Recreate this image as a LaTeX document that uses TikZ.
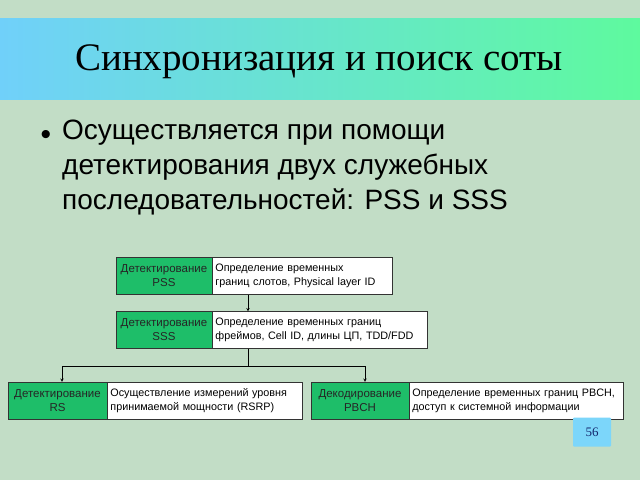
\documentclass[tikz,border=0pt]{standalone}
\usepackage{fontspec}
\setmainfont{Liberation Serif}
\setsansfont{Liberation Sans}
\usetikzlibrary{arrows,positioning,calc}
\definecolor{slidebg}{RGB}{194,221,198}
\definecolor{bandleft}{RGB}{112,208,250}
\definecolor{bandright}{RGB}{94,250,158}
\definecolor{boxgreen}{RGB}{30,190,105}
\definecolor{pagenum}{RGB}{124,214,250}
\definecolor{numblue}{RGB}{20,40,110}

\begin{document}
\begin{tikzpicture}[x=1pt,y=-1pt,>=stealth,
  greenbox/.style={draw=black!80,fill=boxgreen,minimum height=37pt,inner sep=0pt,
    align=center,font=\sffamily\fontsize{11.5}{14}\selectfont,text=black!85},
  whitebox/.style={draw=black!80,fill=white,minimum height=37pt,inner xsep=3pt,inner ysep=0pt,
    align=left,anchor=west,font=\sffamily\fontsize{10.8}{14}\selectfont},
  link/.style={->,black,line width=0.5pt}]
\useasboundingbox (0,0) rectangle (640,480);
\fill[slidebg] (0,0) rectangle (640,480);

% title band
\shade[left color=bandleft,right color=bandright] (0,18) rectangle (640,99);
\node[font=\fontsize{39}{44}\selectfont] (title) at (319,62) {Синхронизация и поиск соты};

% bullet text
\node[font=\sffamily\fontsize{30}{35}\selectfont] (dot) at (46,137) {•};
\node[anchor=north west,align=left,inner sep=0pt,font=\sffamily\fontsize{28}{35}\selectfont]
  (intro) at (62,120) {Осуществляется при помощи\\детектирования двух служебных\\последовательностей: PSS и SSS};

% blocks
\node[greenbox,minimum width=96pt] (pssG) at (164,276) {Детектирование\\PSS};
\node[whitebox,text width=174pt,right=0pt of pssG] (pssW) {Определение временных\\границ слотов, Physical layer ID};

\node[greenbox,minimum width=96pt] (sssG) at (164,330) {Детектирование\\SSS};
\node[whitebox,text width=209pt,right=0pt of sssG] (sssW) {Определение временных границ\\фреймов, Cell ID, длины ЦП, TDD/FDD};

\node[greenbox,minimum width=99pt] (rsG) at (57.5,400.5) {Детектирование\\RS};
\node[whitebox,text width=189pt,right=0pt of rsG] (rsW) {Осуществление измерений уровня\\принимаемой мощности (RSRP)};

\node[greenbox,minimum width=98pt] (pbchG) at (360,400.5) {Декодирование\\PBCH};
\node[whitebox,text width=208pt,right=0pt of pbchG] (pbchW) {Определение временных границ PBCH,\\доступ к системной информации};

% connectors
\coordinate (split) at (248,366);
\coordinate (lft) at (62,366);
\coordinate (rgt) at (365,366);
\draw[link] (pssW.south -| split) -- (sssW.north -| split);
\draw[line width=0.5pt] (sssW.south -| split) -- (split);
\draw[line width=0.5pt] (lft) -- (rgt);
\draw[link] (lft) -- (lft |- rsG.north);
\draw[link] (rgt) -- (rgt |- pbchG.north);

% page number
\node[fill=pagenum,minimum width=38pt,minimum height=29pt,rounded corners=1pt,
  text=numblue,font=\fontsize{13}{15}\selectfont] (page) at (592,432) {56};
\end{tikzpicture}
\end{document}
